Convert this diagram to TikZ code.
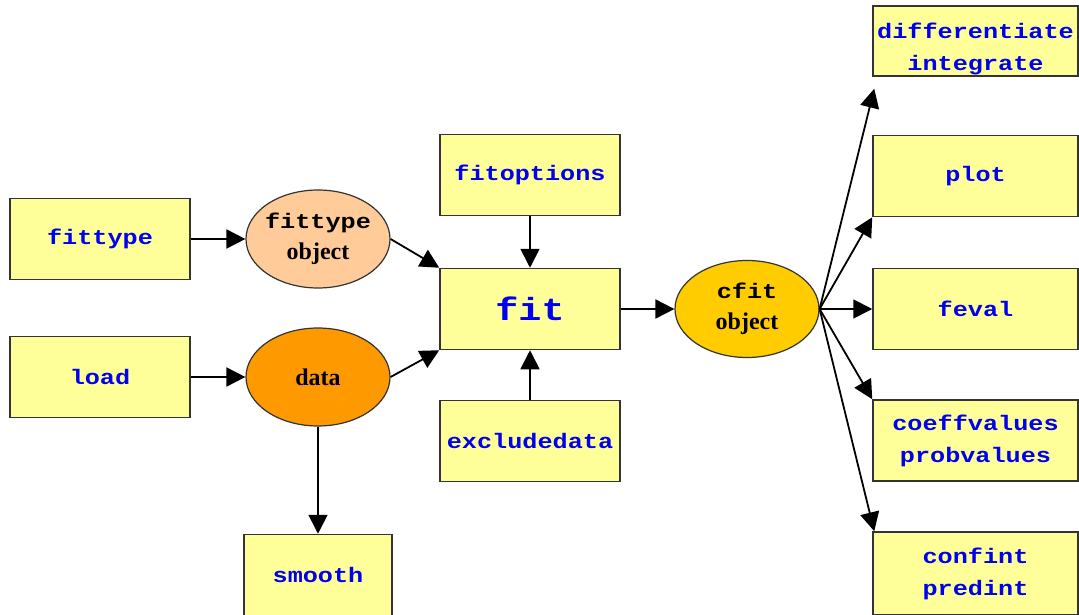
\documentclass[tikz,border=0pt]{standalone}
\usepackage{fontspec}
\setmainfont{Liberation Serif}
\newfontfamily\boxfont[FakeStretch=1.2]{Liberation Mono}
\usetikzlibrary{shapes.geometric,arrows.meta,calc}
\definecolor{boxfill}{HTML}{FFFF99}
\definecolor{boxline}{HTML}{333333}
\definecolor{ftfill}{HTML}{FFCC99}
\definecolor{datafill}{HTML}{FF9900}
\definecolor{cfitfill}{HTML}{FFCC00}
\definecolor{txtblue}{HTML}{0000EE}
\begin{document}
\begin{tikzpicture}[x=1pt,y=-1pt,
  fnbox/.style={draw=boxline,line width=1.5pt,fill=boxfill,rectangle,inner sep=0pt,
    minimum width=180pt,minimum height=81pt,align=center,
    font=\boxfont\bfseries\fontsize{21}{32}\selectfont,text=txtblue},
  objell/.style={draw=boxline,line width=1.2pt,ellipse,inner sep=0pt,
    minimum width=144pt,minimum height=98pt,align=center,text=black,
    font=\bfseries\fontsize{24}{31}\selectfont},
  conn/.style={line width=1.8pt,-{Triangle[length=19pt,width=19pt]}}]
\useasboundingbox (0,0) rectangle (1079,615);
% left column
\node[fnbox] (fittype) at (100,239) {fittype};
\node[fnbox] (load) at (100,377) {load};
% ellipses
\node[objell,fill=ftfill] (ftobj) at (318,239)
  {\makebox[70pt][c]{\boxfont\fontsize{21}{31}\selectfont fittype}\\object};
\node[objell,fill=datafill] (data) at (318,377) {data};
% middle column
\node[fnbox] (fitopt) at (530,175) {fitoptions};
\node[fnbox,font=\boxfont\bfseries\fontsize{32}{36}\selectfont] (fit) at (530,309) {fit};
\node[fnbox] (excl) at (530,441) {excludedata};
\node[fnbox,minimum width=148pt] (smooth) at (318,575) {smooth};
% cfit object
\node[objell,fill=cfitfill,minimum height=97pt] (cfit) at (747,309)
  {{\boxfont\fontsize{21}{31}\selectfont cfit}\\object};
% right column
\node[fnbox,minimum width=205pt,minimum height=70pt] (diff) at (975.5,41) {};
\node[font=\boxfont\bfseries\fontsize{21}{32}\selectfont,text=txtblue,align=center,inner sep=0pt]
  (difftext) at (975.5,49) {differentiate\\integrate};
\node[fnbox,minimum width=205pt] (plot) at (975.5,176) {plot};
\node[fnbox,minimum width=205pt] (feval) at (975.5,309) {feval};
\node[fnbox,minimum width=205pt] (coef) at (975.5,440.5) {coeffvalues\\probvalues};
\node[fnbox,minimum width=205pt,minimum height=83pt] (conf) at (975.5,573.5) {confint\\predint};
% connectors
\draw[conn] (fittype.east) -- (ftobj.west);
\draw[conn] (load.east) -- (data.west);
\draw[conn] (ftobj.east) -- (fit.north west);
\draw[conn] (data.east) -- (fit.south west);
\draw[conn] (fitopt.south) -- (fit.north);
\draw[conn] (excl.north) -- (fit.south);
\draw[conn] (data.south) -- (smooth.north);
\draw[conn] (fit.east) -- (cfit.west);
\draw[conn] (cfit.east) -- ($(diff.south west)+(2,12)$);
\draw[conn] (cfit.east) -- (plot.south west);
\draw[conn] (cfit.east) -- (feval.west);
\draw[conn] (cfit.east) -- (coef.north west);
\draw[conn] (cfit.east) -- ($(conf.north west)+(2,0)$);
\end{tikzpicture}
\end{document}
